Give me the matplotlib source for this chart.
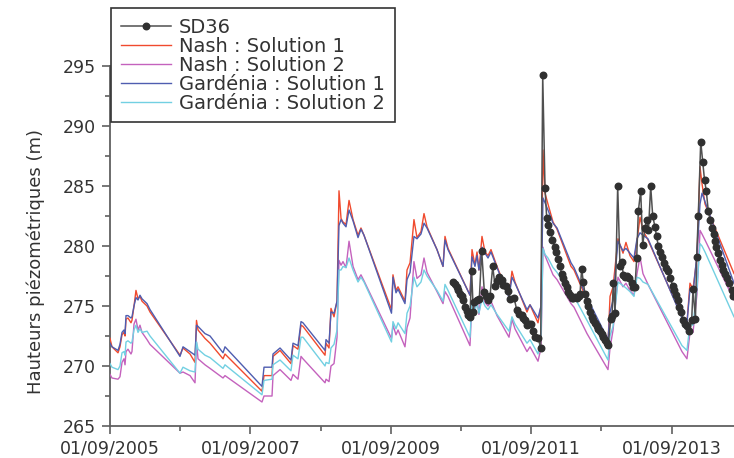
import numpy as np
import matplotlib
matplotlib.use("Agg")
import matplotlib.pyplot as plt
from matplotlib.ticker import FixedLocator, MultipleLocator

# time axis in decimal years (01/09/2005 = 2005.666)
t_model = [2005.667, 2005.695, 2005.781, 2005.809, 2005.838, 2005.866, 2005.881, 2005.895,
           2005.923, 2005.966, 2005.980, 2006.009, 2006.037, 2006.066, 2006.094, 2006.123,
           2006.194, 2006.237, 2006.664, 2006.707, 2006.807, 2006.878, 2006.899, 2006.921,
           2007.020, 2007.092, 2007.277, 2007.305, 2007.832, 2007.861, 2007.975, 2007.989,
           2008.089, 2008.245, 2008.274, 2008.345, 2008.388, 2008.416, 2008.730, 2008.744,
           2008.787, 2008.815, 2008.858, 2008.901, 2008.929, 2008.958, 2008.986, 2009.029,
           2009.072, 2009.129, 2009.200, 2009.242, 2009.285, 2009.677, 2009.698, 2009.741,
           2009.770, 2009.869, 2009.898, 2009.941, 2009.997, 2010.040, 2010.097, 2010.140,
           2010.183, 2010.325, 2010.411, 2010.439, 2010.482, 2010.795, 2010.824, 2010.866,
           2010.895, 2010.923, 2010.966, 2011.009, 2011.052, 2011.094, 2011.180, 2011.351,
           2011.393, 2011.436, 2011.607, 2011.650, 2011.764, 2011.807, 2011.835, 2011.864,
           2011.906, 2011.978, 2012.035, 2012.234, 2012.277, 2012.462, 2012.761, 2012.790,
           2012.833, 2012.903, 2012.975, 2013.017, 2013.074, 2013.131, 2013.174, 2013.217,
           2013.259, 2013.331, 2013.815, 2013.886, 2013.929, 2013.972, 2014.029, 2014.072,
           2014.100, 2014.143, 2014.556]

nash_1 = [272.3, 271.6, 271.1, 271.6, 272.6, 272.8, 272.5, 273.9,
          274.0, 273.6, 273.8, 275.0, 276.3, 275.6, 275.8, 275.4,
          275.0, 274.5, 270.9, 271.5, 271.0, 270.3, 273.8, 273.0,
          272.3, 271.9, 270.6, 271.0, 267.9, 269.2, 269.2, 270.8,
          271.3, 270.2, 271.7, 271.4, 273.4, 273.3, 270.9, 271.9,
          271.5, 274.8, 274.1, 275.4, 284.6, 282.3, 282.0, 281.8,
          283.8, 282.2, 280.9, 281.5, 280.9, 274.7, 277.6, 276.3,
          276.6, 275.4, 278.0, 278.6, 282.2, 280.7, 281.2, 282.7,
          281.6, 279.7, 278.3, 280.8, 279.8, 275.9, 279.7, 278.4,
          279.5, 278.0, 280.8, 279.5, 279.2, 279.7, 278.3, 275.8,
          277.9, 277.0, 274.5, 275.1, 273.6, 275.0, 288.0, 284.4,
          283.5, 282.0, 281.4, 278.3, 278.0, 275.5, 271.8, 275.8,
          276.6, 280.6, 279.4, 280.3, 279.2, 278.7, 280.4, 282.4,
          281.3, 280.5, 274.1, 273.6, 276.9, 276.4, 279.1, 286.6,
          285.2, 283.5, 277.7]

nash_2 = [269.3, 269.0, 268.9, 269.1, 270.3, 270.6, 270.1, 271.2,
          271.4, 271.0, 271.2, 273.5, 273.9, 273.0, 273.4, 272.8,
          272.2, 271.8, 269.4, 269.5, 269.2, 268.6, 272.0, 270.6,
          270.1, 269.8, 269.0, 269.2, 267.0, 267.5, 267.5, 269.2,
          269.7, 268.8, 269.3, 268.9, 270.8, 270.6, 268.6, 268.9,
          268.7, 270.0, 270.2, 272.4, 278.8, 278.4, 278.7, 278.2,
          280.4, 278.3, 277.2, 277.6, 277.1, 272.3, 273.4, 272.6,
          273.0, 271.6, 273.2, 274.0, 278.7, 277.3, 277.6, 279.0,
          277.8, 276.2, 275.2, 276.2, 275.8, 271.7, 275.5, 274.6,
          275.6, 274.3, 276.6, 275.3, 275.0, 275.4, 274.2, 272.4,
          273.9, 273.1, 271.2, 271.6, 270.4, 271.5, 279.9, 279.2,
          278.6, 277.6, 277.2, 275.2, 274.9, 272.7, 269.7, 271.5,
          273.0, 277.4, 276.6, 276.9, 276.3, 275.9, 277.7, 279.1,
          277.7, 276.8, 271.2, 270.6, 272.8, 272.8, 276.0, 281.3,
          281.0, 280.5, 275.5]

gardenia_1 = [271.9, 271.6, 271.3, 271.8, 272.8, 273.0, 272.7, 274.2,
              274.2, 274.0, 274.1, 275.0, 275.7, 275.5, 275.9, 275.6,
              275.2, 274.7, 270.8, 271.6, 271.2, 270.9, 273.4, 273.3,
              272.7, 272.5, 271.1, 271.6, 268.3, 269.9, 269.9, 271.0,
              271.5, 270.5, 271.9, 271.7, 273.7, 273.6, 271.3, 272.2,
              271.9, 274.5, 274.4, 275.4, 281.7, 282.2, 281.9, 281.6,
              283.0, 282.1, 280.7, 281.4, 280.9, 274.4, 277.4, 276.1,
              276.4, 275.2, 277.2, 277.8, 280.8, 280.6, 281.0, 281.9,
              281.5, 279.7, 278.3, 280.5, 279.7, 275.9, 279.1, 278.3,
              279.2, 278.0, 279.9, 279.4, 279.0, 279.5, 278.2, 275.7,
              277.4, 276.9, 274.7, 275.1, 274.0, 275.0, 284.0, 283.6,
              283.0, 281.9, 281.5, 278.6, 278.2, 275.7, 272.2, 274.5,
              275.5, 280.4, 279.6, 279.8, 279.4, 279.0, 280.6, 281.1,
              280.9, 280.6, 274.0, 273.6, 276.4, 276.0, 279.4, 283.5,
              284.4, 283.7, 276.9]

gardenia_2 = [270.2, 269.9, 269.7, 270.0, 271.1, 271.2, 270.9, 272.0,
              272.1, 271.9, 272.0, 273.0, 273.4, 272.8, 273.1, 272.8,
              272.9, 272.5, 269.4, 269.9, 269.6, 269.5, 272.0, 271.4,
              270.9, 270.7, 269.8, 270.1, 267.6, 268.8, 268.9, 270.1,
              270.5, 269.6, 270.9, 270.6, 272.4, 272.4, 270.0, 270.3,
              270.2, 271.5, 271.8, 273.0, 278.0, 278.0, 278.3, 278.2,
              279.0, 278.0, 277.0, 277.4, 277.0, 272.0, 273.7, 273.1,
              273.6, 272.7, 274.4, 275.0, 277.4, 276.6, 277.0, 278.0,
              277.5, 276.3, 275.4, 276.8, 276.3, 272.4, 275.3, 274.6,
              275.3, 274.4, 275.6, 275.0, 274.7, 275.1, 274.3, 272.9,
              274.1, 273.5, 271.9, 272.2, 271.0, 272.5, 279.8, 279.3,
              279.0, 278.2, 277.8, 276.0, 275.8, 273.8, 270.5, 272.5,
              273.3, 277.0, 276.7, 276.5, 276.2, 275.8, 277.4, 277.3,
              277.0, 276.8, 271.7, 271.3, 273.5, 273.4, 276.5, 280.2,
              280.0, 279.5, 274.1]

# observed piezometer SD36
t_sd36 = [2010.557, 2010.582, 2010.606, 2010.629, 2010.653, 2010.677, 2010.700, 2010.724,
          2010.748, 2010.771, 2010.795, 2010.819, 2010.842, 2010.857, 2010.891, 2010.928,
          2010.962, 2010.999, 2011.023, 2011.056, 2011.080, 2011.119, 2011.151, 2011.184,
          2011.212, 2011.247, 2011.269, 2011.308, 2011.332, 2011.365, 2011.422, 2011.460,
          2011.493, 2011.532, 2011.555, 2011.579, 2011.603, 2011.631, 2011.660, 2011.693,
          2011.721, 2011.768, 2011.802, 2011.831, 2011.864, 2011.888, 2011.913, 2011.942,
          2011.970, 2011.999, 2012.027, 2012.053, 2012.077, 2012.101, 2012.127, 2012.148,
          2012.173, 2012.195, 2012.220, 2012.244, 2012.267, 2012.291, 2012.315, 2012.341,
          2012.362, 2012.386, 2012.409, 2012.433, 2012.458, 2012.480, 2012.505, 2012.529,
          2012.552, 2012.576, 2012.600, 2012.623, 2012.647, 2012.671, 2012.694, 2012.718,
          2012.742, 2012.765, 2012.799, 2012.818, 2012.836, 2012.861, 2012.899, 2012.932,
          2012.956, 2012.979, 2013.003, 2013.032, 2013.064, 2013.099, 2013.121, 2013.146,
          2013.170, 2013.193, 2013.227, 2013.255, 2013.288, 2013.312, 2013.338, 2013.369,
          2013.398, 2013.430, 2013.454, 2013.477, 2013.502, 2013.526, 2013.559, 2013.587,
          2013.620, 2013.651, 2013.683, 2013.705, 2013.730, 2013.754, 2013.777, 2013.808,
          2013.834, 2013.858, 2013.882, 2013.919, 2013.953, 2013.972, 2014.007, 2014.024,
          2014.047, 2014.082, 2014.110, 2014.136, 2014.161, 2014.190, 2014.214, 2014.238,
          2014.264, 2014.285, 2014.306, 2014.332, 2014.356, 2014.380, 2014.404, 2014.428,
          2014.456, 2014.489, 2014.523, 2014.548]

sd36 = [277.0, 276.8, 276.6, 276.3, 276.0, 275.8, 275.5, 274.9,
        274.6, 274.25, 274.1, 277.9, 274.5, 275.3, 275.5, 275.6,
        279.6, 276.2, 275.8, 275.5, 275.8, 278.3, 276.7, 277.1,
        277.4, 277.2, 276.75, 276.7, 276.25, 275.6, 275.7, 274.7,
        274.3, 274.25, 274.0, 273.8, 273.4, 273.5, 273.5, 272.9,
        272.4, 272.3, 271.5, 294.25, 284.8, 282.3, 281.75, 281.2,
        280.5, 279.9, 279.5, 278.9, 278.3, 277.7, 277.3, 276.9,
        276.6, 276.2, 275.9, 275.7, 275.7, 275.75, 275.7, 275.8,
        276.0, 278.1, 277.0, 276.0, 275.4, 275.0, 274.5, 274.1,
        273.8, 273.6, 273.3, 273.1, 272.9, 272.7, 272.4, 272.2,
        271.9, 271.75, 273.9, 274.2, 276.9, 274.4, 285.0, 278.3,
        278.7, 277.6, 277.4, 277.5, 277.3, 276.9, 276.6, 276.6,
        279.0, 282.9, 284.6, 280.1, 281.5, 282.2, 281.3, 285.0,
        282.5, 281.6, 280.8, 280.0, 279.5, 279.1, 278.6, 278.2,
        277.9, 277.3, 276.7, 276.3, 275.9, 275.5, 274.9, 274.5,
        273.8, 273.5, 273.3, 272.9, 273.8, 276.4, 273.9, 279.1,
        282.5, 288.7, 287.0, 285.5, 284.6, 282.9, 282.2, 281.5,
        281.0, 280.4, 279.9, 279.4, 278.8, 278.4, 278.0, 277.7,
        277.3, 276.9, 276.3, 275.8]

x_ticks = [2005.667, 2007.667, 2009.667, 2011.667, 2013.667]
x_labels = ["01/09/2005", "01/09/2007", "01/09/2009", "01/09/2011", "01/09/2013"]

plt.rcParams['font.family'] = ['DejaVu Sans']

fig = plt.figure(figsize=(7.34, 4.58), dpi=100)
ax = fig.add_axes([110/734, 32/458, 624/734, 360/458])

ax.plot(t_model, nash_1, color='#f04a2e', lw=1.0, label='Nash : Solution 1', zorder=3)
ax.plot(t_model, nash_2, color='#c462bd', lw=1.0, label='Nash : Solution 2', zorder=3)
ax.plot(t_model, gardenia_1, color='#4f5db0', lw=1.0, label='Gardénia : Solution 1', zorder=3)
ax.plot(t_model, gardenia_2, color='#72d0e2', lw=1.0, label='Gardénia : Solution 2', zorder=3)
ax.plot(t_sd36, sd36, color='#505050', lw=1.1, marker='o', ms=4.7, mfc='#303030',
        mec='#303030', label='SD36', zorder=4)

ax.set_xlim(2005.667, 2014.556)
ax.set_ylim(265, 295)

ax.xaxis.set_major_locator(FixedLocator(x_ticks))
ax.set_xticklabels(x_labels)
ax.xaxis.set_minor_locator(FixedLocator([v + 1 for v in x_ticks]))
ax.yaxis.set_major_locator(MultipleLocator(5))
ax.yaxis.set_minor_locator(MultipleLocator(2.5))

for s in ['top', 'right']:
    ax.spines[s].set_visible(False)
for s in ['left', 'bottom']:
    ax.spines[s].set_color('#606060')
    ax.spines[s].set_linewidth(1.3)

ax.tick_params(axis='both', which='major', direction='out', length=6, width=1.2,
               color='#606060', labelsize=12.5, labelcolor='#333333', pad=4)
ax.tick_params(axis='both', which='minor', direction='out', length=3.5, width=1.2,
               color='#606060')

fig.text(36/734, 1 - 261/458, 'Hauteurs piézométriques (m)', rotation=90,
         ha='center', va='center', fontsize=13, color='#333333')

h, l = ax.get_legend_handles_labels()
order = [4, 0, 1, 2, 3]
leg = fig.legend([h[i] for i in order], [l[i] for i in order],
                 loc='upper left', bbox_to_anchor=(111/734, 1 - 8/458),
                 bbox_transform=fig.transFigure, borderaxespad=0,
                 fontsize=14, frameon=True, fancybox=False, framealpha=1,
                 edgecolor='#333333', handlelength=2.6, handletextpad=0.4,
                 labelspacing=0.0, borderpad=0.5, numpoints=1, markerscale=1.0)
leg.get_frame().set_linewidth(1.2)
for txt in leg.get_texts():
    txt.set_color('#333333')

fig.savefig('out.png', dpi=100)
